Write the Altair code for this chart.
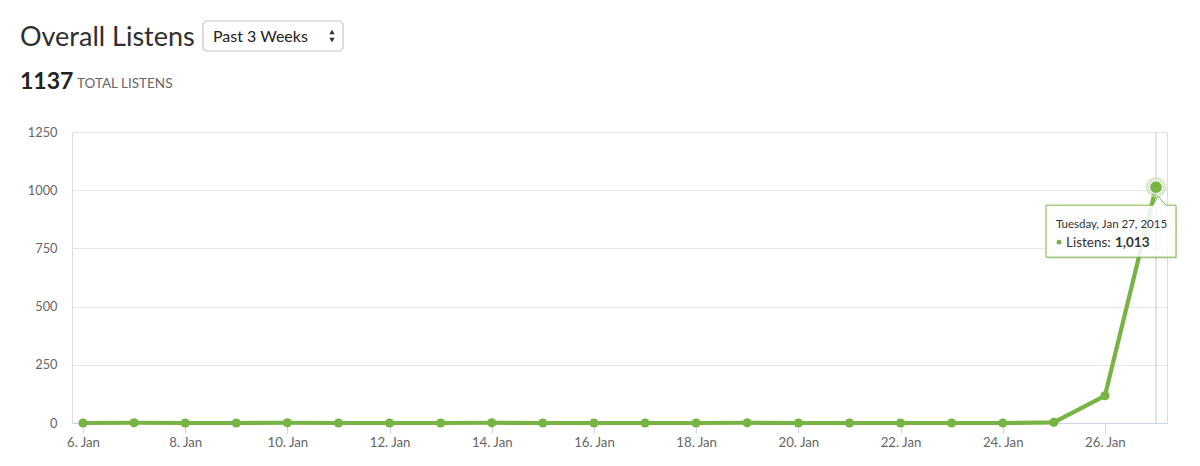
import altair as alt
import pandas as pd

# ---- data ----
days = list(range(6, 28))  # January 2015
listens = [0, 1, 0, 0, 1, 0, 0, 0, 1, 0, 0, 0, 0, 1, 0, 0, 0, 0, 0, 3, 117, 1013]
x_ticks = [6, 8, 10, 12, 14, 16, 18, 20, 22, 24, 26]
y_ticks = [0, 250, 500, 750, 1000, 1250]
title_text = "Overall Listens"
period_text = "Past 3 Weeks"
total_text = "1137"
total_label = "TOTAL LISTENS"
tip_date = "Tuesday, Jan 27, 2015"
tip_series = "Listens:"
tip_value = "1,013"

GREEN = "#78b443"
FONT = "Lato"
W, H = 1095, 291

df = pd.DataFrame({"day": days, "listens": listens})
last = df.tail(1)
one = pd.DataFrame({"a": [0]})

x_enc = alt.X("day:Q",
              scale=alt.Scale(domain=[5.785, 27.215], nice=False, zero=False),
              axis=alt.Axis(values=x_ticks, labelExpr="datum.value + '. Jan'",
                            title=None, grid=False, domainColor="#ccd6eb",
                            tickColor="#ccd6eb", tickSize=10, labelPadding=3,
                            labelColor="#666666", labelFontSize=13.2, labelFont=FONT))
y_enc = alt.Y("listens:Q",
              scale=alt.Scale(domain=[0, 1250], nice=False),
              axis=alt.Axis(values=y_ticks, format="d", title=None, domain=False,
                            ticks=False, gridColor="#e6e6e6", labelPadding=15,
                            labelColor="#666666", labelFontSize=12.8, labelFont=FONT))

base = alt.Chart(df)

line = base.mark_line(color=GREEN, strokeWidth=4.2).encode(x=x_enc, y=y_enc)
pts = base.mark_circle(color=GREEN, size=85, opacity=1).encode(x="day:Q", y="listens:Q")

cross = alt.Chart(last).mark_rule(color="#c8c8c8", strokeWidth=1).encode(
    x="day:Q", y=alt.value(0), y2=alt.value(H))

halo = alt.Chart(last).mark_circle(color="#c9dcb6", size=440, opacity=0.6).encode(
    x="day:Q", y="listens:Q")
big = alt.Chart(last).mark_point(filled=True, fill=GREEN, stroke="white", strokeWidth=1,
                                 size=160, opacity=1).encode(x="day:Q", y="listens:Q")

box_path = "M-110,18 L-3,18 L2,9 L10,18 L20,18 L20,70 L-110,70 Z"
shadow = alt.Chart(last).mark_point(shape=box_path, size=4, filled=True, fill="#000000",
                                    fillOpacity=0.08, strokeOpacity=0, xOffset=1.5,
                                    yOffset=2).encode(x="day:Q", y="listens:Q")
box = alt.Chart(last).mark_point(shape=box_path, size=4, filled=True, fill="white",
                                 fillOpacity=0.88, stroke=GREEN, strokeWidth=1,
                                 opacity=1).encode(x="day:Q", y="listens:Q")

t1 = alt.Chart(last).mark_text(text=tip_date, align="left", baseline="alphabetic",
                               dx=-100, dy=41, fontSize=11.5, font=FONT,
                               color="#333333").encode(x="day:Q", y="listens:Q")
tdot = alt.Chart(last).mark_circle(color=GREEN, size=24, opacity=1, xOffset=-97,
                                   yOffset=55).encode(x="day:Q", y="listens:Q")
t2 = alt.Chart(last).mark_text(text=tip_series, align="left", baseline="alphabetic",
                               dx=-90, dy=60, fontSize=13.5, font=FONT,
                               color="#333333").encode(x="day:Q", y="listens:Q")
t3 = alt.Chart(last).mark_text(text=tip_value, align="left", baseline="alphabetic",
                               dx=-41, dy=60, fontSize=13.5, font=FONT, fontWeight="bold",
                               color="#333333").encode(x="day:Q", y="listens:Q")

# ---- header ----
hdr = alt.Chart(one)
h_title = hdr.mark_text(text=title_text, align="left", baseline="alphabetic",
                        fontSize=27, font=FONT, color="#2f2f2f").encode(
    x=alt.value(-52), y=alt.value(-86))
h_box = hdr.mark_rect(fill="white", stroke="#c4c4c4", strokeWidth=1.2,
                      cornerRadius=4).encode(
    x=alt.value(131), x2=alt.value(271), y=alt.value(-111), y2=alt.value(-81))
h_period = hdr.mark_text(text=period_text, align="left", baseline="alphabetic",
                         fontSize=16, font=FONT, color="#222222").encode(
    x=alt.value(141), y=alt.value(-90))
h_up = hdr.mark_point(shape="triangle-up", filled=True, color="#333333", size=30,
                      opacity=1).encode(x=alt.value(260), y=alt.value(-100))
h_dn = hdr.mark_point(shape="triangle-down", filled=True, color="#333333", size=30,
                      opacity=1).encode(x=alt.value(260), y=alt.value(-92))
h_total = hdr.mark_text(text=total_text, align="left", baseline="alphabetic",
                        fontSize=23, font=FONT, fontWeight="bold",
                        color="#222222").encode(x=alt.value(-52), y=alt.value(-43))
h_lbl = hdr.mark_text(text=total_label, align="left", baseline="alphabetic",
                      fontSize=13.5, font=FONT, color="#666666").encode(
    x=alt.value(5), y=alt.value(-44))

chart = alt.layer(
    cross, line, pts, halo, big, shadow, box, t1, tdot, t2, t3,
    h_title, h_box, h_period, h_up, h_dn, h_total, h_lbl
).properties(
    width=W, height=H,
    autosize=alt.AutoSizeParams(type="none"),
    padding={"left": 64, "top": 124, "right": 18, "bottom": 28},
).configure_view(stroke=None).configure(background="white")

chart.save("out.html", embed_options={"renderer": "svg", "actions": False})
